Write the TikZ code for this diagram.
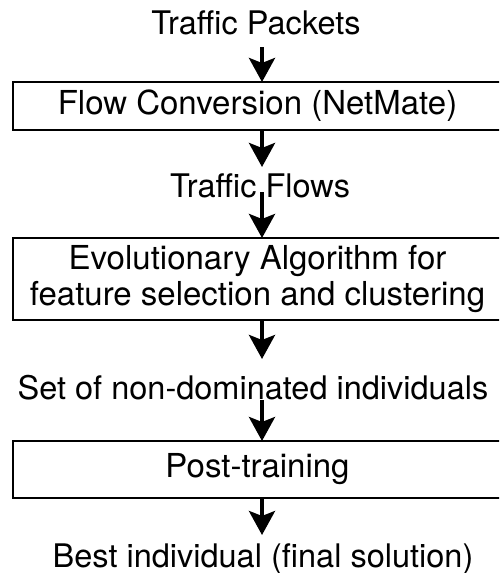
\documentclass[tikz,border=0pt]{standalone}
\usepackage{fontspec}
\setmainfont{TeX Gyre Heros}
\usetikzlibrary{arrows.meta}
\begin{document}
\begin{tikzpicture}[x=1pt,y=-1pt,
  lbl/.style={inner sep=0pt, outer sep=0pt, text height=24pt, text depth=0pt,
              font=\fontsize{32.5}{36}\selectfont},
  box/.style={draw, line width=2pt, inner sep=0pt, outer sep=0pt,
              font=\fontsize{33}{36}\selectfont, minimum width=489pt, align=center},
  flow/.style={line width=4pt, -{Stealth[length=24pt,width=26pt,inset=5pt]}}]
\clip (0,0) rectangle (499,573);
\fill[white] (0,0) rectangle (499,573);
% labels
\node[lbl, anchor=base] (tp) at (256,34) {Traffic Packets};
\node[lbl, anchor=base] (tf) at (260,197) {Traffic Flows};
\node[lbl, anchor=base] (nd) at (253,399) {Set of non-dominated individuals};
\node[lbl, anchor=base] (bi) at (263,567) {Best individual (final solution)};
% boxes
\node[box, minimum height=48pt] (b1) at (257.5,106) {Flow Conversion (NetMate)};
\node[box, minimum height=82pt] (b2) at (257.5,279) {Evolutionary Algorithm for\\feature selection and clustering};
\node[box, minimum height=57pt] (b3) at (257.5,469.5) {Post-training};
% arrows
\coordinate (ax) at (262,0);
\draw[flow, shorten <=13pt] (tp.south -| ax) -- (b1.north -| ax);
\draw[flow, shorten >=6pt] (b1.south -| ax) -- (tf.north -| ax);
\draw[flow, shorten <=-5pt] (tf.south -| ax) -- (b2.north -| ax);
\draw[flow, shorten >=16pt] (b2.south -| ax) -- (nd.north -| ax);
\draw[flow, shorten <=1pt] (nd.south -| ax) -- (b3.north -| ax);
\draw[flow, shorten >=8pt] (b3.south -| ax) -- (bi.north -| ax);
\end{tikzpicture}
\end{document}
